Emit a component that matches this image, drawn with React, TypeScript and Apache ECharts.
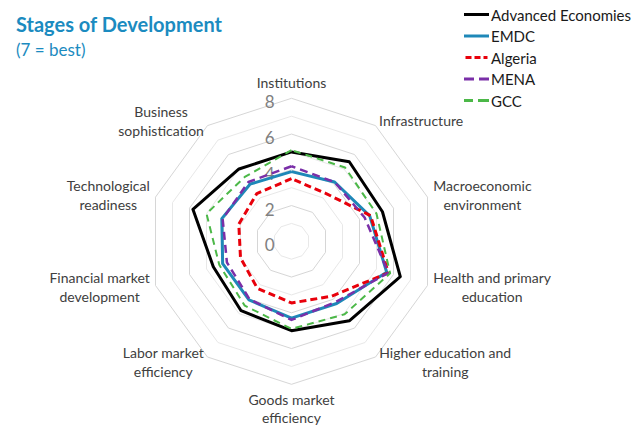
import React, { useEffect, useRef } from "react";
import * as echarts from "echarts";

const categories = [
  "Institutions",
  "Infrastructure",
  "Macroeconomic\nenvironment",
  "Health and primary\neducation",
  "Higher education and\ntraining",
  "Goods market\nefficiency",
  "Labor market\nefficiency",
  "Financial market\ndevelopment",
  "Technological\nreadiness",
  "Business\nsophistication",
];

const seriesNames = ["Advanced Economies", "EMDC", "Algeria", "MENA", "GCC"];

const advanced = [5.0, 5.5, 5.35, 6.4, 5.5, 5.0, 4.8, 4.6, 5.8, 5.0];
const emdc = [3.9, 4.1, 4.6, 5.6, 4.3, 4.3, 4.05, 4.05, 4.1, 3.95];
const algeria = [3.5, 3.3, 4.65, 5.7, 3.8, 3.45, 3.25, 3.0, 3.1, 3.3];
const mena = [4.2, 4.1, 4.3, 5.7, 4.2, 4.4, 4.0, 3.8, 4.05, 4.1];
const gcc = [5.1, 5.1, 5.0, 5.8, 5.05, 4.9, 4.45, 4.25, 5.0, 4.45];

const axisMin = 0;
const axisMax = 8;
const axisSplits = 8;

const FONT = "Lato, 'Open Sans', sans-serif";

export default function App() {
  const ref = useRef<HTMLDivElement>(null);

  useEffect(() => {
    if (!ref.current) return;
    const chart = echarts.init(ref.current, null, { renderer: "svg" });

    // ECharts lays radar indicators counter-clockwise; reorder to clockwise.
    const order = [0, ...categories.map((_, i) => i).slice(1).reverse()];
    const reorder = (arr: number[]) => order.map((i) => arr[i]);

    const indicator = order.map((i, k) => {
      const ind: any = { name: categories[i], min: axisMin, max: axisMax };
      if (k === 0) ind.axisLabel = { show: true };
      return ind;
    });

    const bottomName = categories[Math.floor(categories.length / 2)];

    const colors = ["#000000", "#1e88b8", "#e8000b", "#7a2fa8", "#4cb848"];
    const widths = [3, 3, 3, 2.5, 2];
    const dashes: any[] = ["solid", "solid", [7, 4], [8, 5], [7, 5]];
    const icons = [
      "path://M0,0H25V3H0Z",
      "path://M0,0H25V3H0Z",
      "path://M0,0H6V3H0Z M9,0H15V3H9Z M18,0H22V3H18Z",
      "path://M0,0H10V3H0Z M15,0H25V3H15Z",
      "path://M0,0H9V3H0Z M14,0H25V3H14Z",
    ];
    const values = [advanced, emdc, algeria, mena, gcc];

    const nameStyle = {
      align: "center",
      fontFamily: FONT,
      fontSize: 14,
      color: "#404040",
      lineHeight: 19,
    };

    chart.setOption({
      animation: false,
      backgroundColor: "#ffffff",
      title: {
        text: "Stages of Development",
        subtext: "(7 = best)",
        left: 11,
        top: 9,
        itemGap: 7,
        textStyle: {
          fontFamily: FONT,
          fontSize: 20,
          fontWeight: "bold",
          color: "#1b8bc0",
        },
        subtextStyle: {
          fontFamily: FONT,
          fontSize: 17,
          color: "#1b8bc0",
        },
      },
      legend: {
        orient: "vertical",
        left: 459,
        top: 2,
        itemWidth: 25,
        itemHeight: 3,
        itemGap: 6.5,
        textStyle: { fontFamily: FONT, fontSize: 15, color: "#1a1a1a", padding: [0, 0, 0, -3] },
        data: seriesNames.map((n, i) => ({ name: n, icon: icons[i] })),
      },
      radar: {
        center: [291.5, 241.3],
        radius: 143,
        shape: "polygon",
        splitNumber: axisSplits,
        startAngle: 90,
        indicator,
        axisName: {
          color: "#404040",
          fontFamily: FONT,
          fontSize: 14,
          formatter: (name: string) => {
            const lines = name.split("\n");
            return lines
              .map((l, j) =>
                name === bottomName && j === lines.length - 1 ? `{d|${l}}` : `{c|${l}}`
              )
              .join("\n");
          },
          rich: {
            c: nameStyle,
            d: { ...nameStyle, lineHeight: 16 },
          },
        },
        nameGap: 6,
        axisLine: { show: false },
        axisTick: { show: false },
        splitArea: { show: false },
        splitLine: {
          lineStyle: { color: ["#d6d6d6", "#e8e8e8"], width: 1 },
        },
        axisLabel: {
          show: false,
          color: "#808080",
          fontFamily: FONT,
          fontSize: 17,
          margin: 17,
          verticalAlign: "top",
          lineHeight: 7,
          formatter: (v: number) => (v % 2 === 0 ? String(v) : ""),
        },
      },
      series: values.map((vals, i) => ({
        type: "radar",
        name: seriesNames[i],
        symbol: "none",
        z: 2 + i,
        color: colors[i],
        lineStyle: { color: colors[i], width: widths[i], type: dashes[i] },
        itemStyle: { color: colors[i] },
        data: [{ value: reorder(vals), name: seriesNames[i] }],
      })),
    });

    return () => chart.dispose();
  }, []);

  return (
    <div
      ref={ref}
      style={{ position: "fixed", left: 0, top: 0, width: 631, height: 426 }}
    />
  );
}
